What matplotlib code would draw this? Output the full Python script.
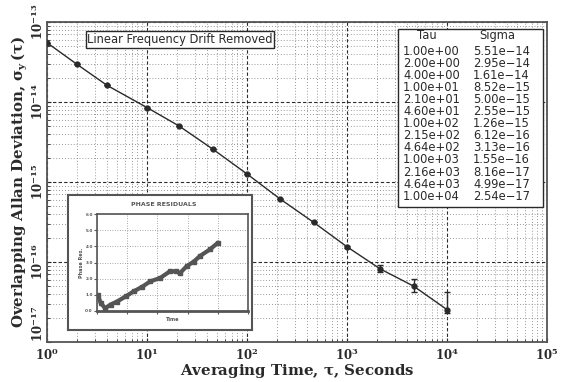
import matplotlib
matplotlib.use('Agg')
import matplotlib.pyplot as plt
from matplotlib.patches import Rectangle

# Allan deviation results
tau = [1.0, 2.0, 4.0, 10.0, 21.0, 46.0, 100.0, 215.0, 464.0, 1000.0, 2160.0, 4640.0, 10000.0]
sigma = [5.51e-14, 2.95e-14, 1.61e-14, 8.52e-15, 5.00e-15, 2.55e-15, 1.26e-15,
         6.12e-16, 3.13e-16, 1.55e-16, 8.16e-17, 4.99e-17, 2.54e-17]
sig_lo = [5.51e-14, 2.95e-14, 1.61e-14, 8.52e-15, 5.00e-15, 2.55e-15, 1.26e-15,
          6.12e-16, 3.13e-16, 1.50e-16, 7.4e-17, 4.2e-17, 2.3e-17]
sig_hi = [5.51e-14, 2.95e-14, 1.61e-14, 8.52e-15, 5.00e-15, 2.55e-15, 1.26e-15,
          6.12e-16, 3.13e-16, 1.60e-16, 9.1e-17, 6.1e-17, 4.2e-17]
tau_txt = ["1.00e+00", "2.00e+00", "4.00e+00", "1.00e+01", "2.10e+01", "4.60e+01", "1.00e+02",
           "2.15e+02", "4.64e+02", "1.00e+03", "2.16e+03", "4.64e+03", "1.00e+04"]
sig_txt = ["5.51e-14", "2.95e-14", "1.61e-14", "8.52e-15", "5.00e-15", "2.55e-15", "1.26e-15",
           "6.12e-16", "3.13e-16", "1.55e-16", "8.16e-17", "4.99e-17", "2.54e-17"]

# inset: phase residuals
res_x = [0.03, 0.12, 0.27, 0.45, 0.66, 0.95, 1.21, 1.5, 1.76, 2.09, 2.42, 2.6, 2.75, 2.97, 3.2, 3.41, 3.74, 4.01]
res_y = [1.0, 0.5, 0.17, 0.4, 0.58, 0.9, 1.21, 1.5, 1.83, 2.04, 2.46, 2.45, 2.35, 2.77, 3.05, 3.4, 3.81, 4.23]

ink = '#2a2a2a'
plt.rcParams['font.family'] = ['DejaVu Sans']
plt.rcParams['mathtext.fontset'] = 'dejavuserif'

fig = plt.figure(figsize=(5.66, 3.82), dpi=100)
ax = fig.add_axes([47/566, 40/382, 500/566, 320/382])
ax.set_xscale('log')
ax.set_yscale('log')
ax.set_xlim(1, 1e5)
ax.set_ylim(1e-17, 1e-13)

ax.grid(True, which='major', linestyle=(0, (3, 2)), color=ink, lw=0.8)
ax.grid(True, which='minor', linestyle=(0, (1, 2.5)), color='#777777', lw=0.6)
for s in ax.spines.values():
    s.set_color('#555555')
    s.set_linewidth(1.3)
ax.tick_params(which='both', direction='in', color=ink, top=False, right=False)
ax.tick_params(which='major', length=3)
ax.tick_params(which='minor', length=2)

ax.set_xticks([1, 10, 100, 1e3, 1e4, 1e5])
ax.set_xticklabels([r'$\mathbf{10^{%d}}$' % i for i in range(6)], fontsize=8.5, color=ink)
ax.set_yticks([1e-17, 1e-16, 1e-15, 1e-14, 1e-13])
ylabs = ax.set_yticklabels([r'$\mathbf{10^{%d}}$' % i for i in range(-17, -12)], fontsize=8.5,
                           color=ink, rotation=90, va='center')
ylabs[0].set_va('bottom')
ax.tick_params(axis='x', pad=4)
ax.tick_params(axis='y', pad=1)

ax.errorbar(tau, sigma,
            yerr=[[s - l for s, l in zip(sigma, sig_lo)], [h - s for s, h in zip(sigma, sig_hi)]],
            color=ink, lw=1.0, marker='o', ms=3.5, capsize=2.5, elinewidth=1.0, zorder=5)

ax.set_xlabel(r'Averaging Time, $\mathbf{\tau}$, Seconds', family='DejaVu Serif',
              fontweight='bold', fontsize=10.8, color=ink, labelpad=-1)
ax.set_ylabel(r'Overlapping Allan Deviation, $\mathbf{\sigma_y\,(\tau)}$', family='DejaVu Serif',
              fontweight='bold', fontsize=10.8, color=ink, labelpad=0)

ax.text(0.266, 0.945, 'Linear Frequency Drift Removed', transform=ax.transAxes, ha='center',
        va='center', fontsize=8.3, color=ink,
        bbox=dict(boxstyle='square,pad=0.15', fc='white', ec=ink, lw=1.0), zorder=6)

# table box
ax.add_patch(Rectangle((0.702, 0.422), 0.29, 0.556, transform=ax.transAxes, fc='white',
                       ec=ink, lw=1.0, zorder=6))
ax.text(0.76, 0.959, 'Tau', transform=ax.transAxes, ha='center', va='center', fontsize=8.3,
        color=ink, zorder=7)
ax.text(0.90, 0.959, 'Sigma', transform=ax.transAxes, ha='center', va='center', fontsize=8.3,
        color=ink, zorder=7)
for i, (t, s) in enumerate(zip(tau_txt, sig_txt)):
    yy = 0.909 - i * 0.0378
    ax.text(0.712, yy, t, transform=ax.transAxes, ha='left', va='center', fontsize=8.3,
            color=ink, zorder=7)
    ax.text(0.852, yy, s.replace('-', '\u2212'), transform=ax.transAxes, ha='left',
            va='center', fontsize=8.3, color=ink, zorder=7)

# inset frame
frame = fig.add_axes([68/566, (382-330)/382, 184/566, 135/382])
frame.set_xticks([])
frame.set_yticks([])
frame.set_facecolor('white')
for s in frame.spines.values():
    s.set_color('#555555')
    s.set_linewidth(1.5)
frame.text(0.52, 0.93, 'PHASE RESIDUALS', transform=frame.transAxes, ha='center', va='center',
           fontsize=4.5, fontweight='bold', color='#555555')

ins = fig.add_axes([97/566, (382-311)/382, 151/566, 97/382])
ins.set_xlim(0, 5)
ins.set_ylim(0, 6)
ins.set_xticks([0, 1, 2, 3, 4, 5])
ins.set_yticks([0, 1, 2, 3, 4, 5, 6])
ins.set_xticklabels([])
ins.set_yticklabels(['%.1f' % v for v in range(7)], fontsize=3, fontweight='bold', color='#555555')
ins.tick_params(length=2, width=0.8, color='#555555', pad=1)
ins.grid(True, linestyle=(0, (1, 2)), color='#888888', lw=0.6)
for s in ins.spines.values():
    s.set_color('#555555')
    s.set_linewidth(1.2)
ins.spines['bottom'].set_linewidth(2.0)
ins.plot(res_x, res_y, color='#555555', lw=3.0, marker='s', ms=2.5, solid_capstyle='round')
ins.set_ylabel('Phase Res.', fontsize=3.5, fontweight='bold', color='#555555', labelpad=1)
ins.set_xlabel('Time', fontsize=3.5, fontweight='bold', color='#555555', labelpad=1)

fig.savefig('out.png', dpi=100)
